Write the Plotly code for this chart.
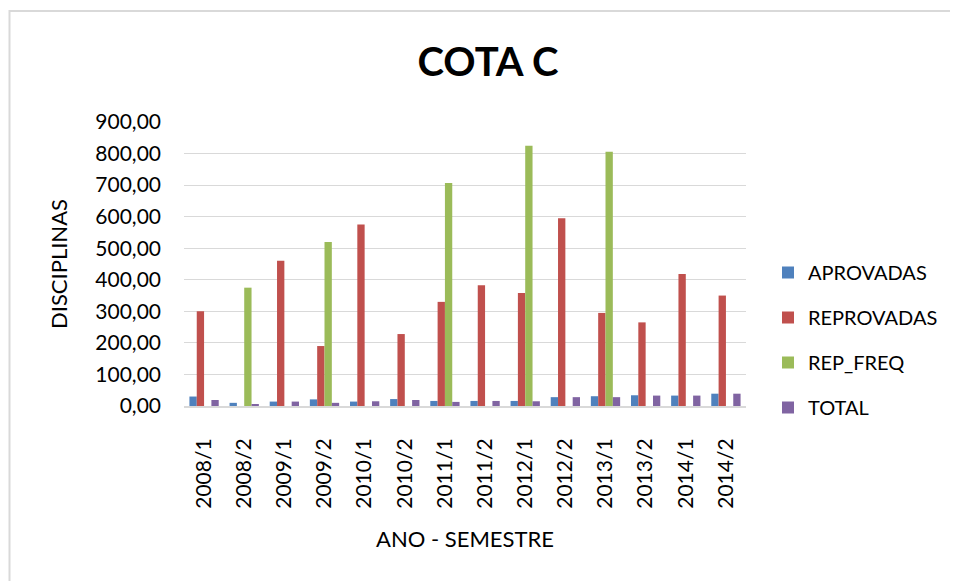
import plotly.graph_objects as go

categories = ["2008/1", "2008/2", "2009/1", "2009/2", "2010/1", "2010/2", "2011/1",
              "2011/2", "2012/1", "2012/2", "2013/1", "2013/2", "2014/1", "2014/2"]
aprovadas = [30, 10, 14, 21, 14, 22, 16, 16, 16, 28, 31, 34, 33, 39]
reprovadas = [300, 0, 460, 190, 575, 228, 330, 383, 358, 595, 295, 265, 418, 350]
rep_freq = [0, 375, 0, 520, 0, 0, 707, 0, 825, 0, 806, 0, 0, 0]
total = [19, 5, 14, 10, 15, 19, 13, 16, 15, 28, 28, 33, 33, 39]

series_names = ["APROVADAS", "REPROVADAS", "REP_FREQ", "TOTAL"]
series_values = [aprovadas, reprovadas, rep_freq, total]
colors = ["#4F81BD", "#C0504D", "#9BBB59", "#8064A2"]

FONT = "Lato"
OFF = 8  # page body margin
W, H = 958 - OFF, 581 - OFF
PL, PR, PT, PB = 184, 746, 122, 406  # plot area in page pixels


def px(x):
    return (x - PL) / (PR - PL)


def py(y):
    return (PB - y) / (PB - PT)


fig = go.Figure()
for name, vals, col in zip(series_names, series_values, colors):
    fig.add_trace(go.Bar(x=categories, y=vals, name=name, marker_color=col,
                         marker_line_width=0, legendgroup=name))

fig.update_layout(
    width=W, height=H,
    margin=dict(l=PL - OFF, r=W - (PR - OFF), t=PT - OFF, b=H - (PB - OFF),
                autoexpand=False),
    paper_bgcolor="white", plot_bgcolor="white",
    separators=",.",
    barmode="group", bargap=0.27, bargroupgap=0,
    font=dict(family=FONT, color="#000000"),
    title=dict(text="<b>COTA C</b>", x=(488 - OFF) / W, xanchor="center",
               y=1 - (62 - OFF) / H, yanchor="middle",
               font=dict(family=FONT, size=40, color="#000000")),
    legend=dict(x=px(768), xanchor="left",
                y=py(253), yanchor="top",
                font=dict(family=FONT, size=20, color="#000000"),
                tracegroupgap=16, traceorder="grouped", bgcolor="rgba(0,0,0,0)"),
    showlegend=True,
)
fig.update_xaxes(
    type="category", tickangle=-90, showgrid=False,
    showline=True, linecolor="#d9d9d9", linewidth=2,
    tickfont=dict(family=FONT, size=21, color="#000000"),
    ticks="", ticklabelstandoff=22,
)
fig.update_yaxes(
    range=[0, 900], dtick=100, tickformat=".2f",
    showgrid=True, gridcolor="#d9d9d9", gridwidth=1,
    zeroline=False, showline=False, ticks="",
    tickfont=dict(family=FONT, size=21, color="#000000"),
    ticklabelstandoff=22,
)
fig.add_annotation(text="DISCIPLINAS", xref="paper", yref="paper",
                   x=px(58), y=py(264), textangle=-90, showarrow=False,
                   xanchor="center", yanchor="middle",
                   font=dict(family=FONT, size=22, color="#000000"))
fig.add_annotation(text="ANO - SEMESTRE", xref="paper", yref="paper",
                   x=px(465), y=py(538), showarrow=False,
                   xanchor="center", yanchor="middle",
                   font=dict(family=FONT, size=22, color="#000000"))
# outer chart frame
fig.add_shape(type="rect", xref="paper", yref="paper",
              x0=px(9.5), x1=px(1000),
              y0=py(640), y1=py(11),
              line=dict(color="#d9d9d9", width=2), fillcolor="rgba(0,0,0,0)",
              layer="below")

fig.write_html("out.html")
